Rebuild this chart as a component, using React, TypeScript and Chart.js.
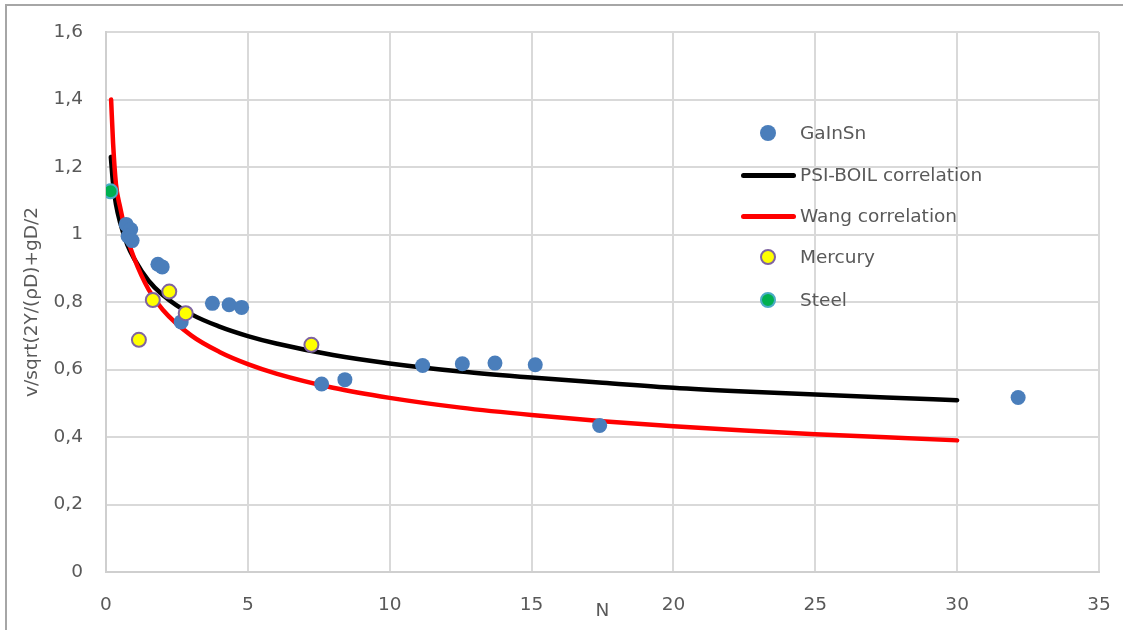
import React, { useEffect, useRef } from "react";
import { Chart, registerables } from "chart.js";

Chart.register(...registerables);

// GaInSn measurements
const gaX = [0.71, 0.87, 0.78, 0.92, 1.83, 1.98, 2.65, 3.75, 4.34, 4.78, 7.6, 8.42, 11.16, 12.56, 13.71, 15.13, 17.4, 32.15];
const gaY = [1.03, 1.015, 0.995, 0.982, 0.912, 0.904, 0.741, 0.796, 0.792, 0.784, 0.557, 0.57, 0.612, 0.617, 0.619, 0.614, 0.434, 0.517];

// Mercury measurements
const hgX = [1.16, 1.65, 2.23, 2.81, 7.24];
const hgY = [0.688, 0.806, 0.831, 0.767, 0.673];

// Steel measurement
const stX = [0.16];
const stY = [1.128];

// PSI-BOIL correlation
const psiX = [0.17, 0.25, 0.35, 0.5, 0.75, 1, 1.5, 2, 3, 4, 5, 6, 8, 10, 12.5, 15, 17.5, 20, 22.5, 25, 27.5, 30];
const psiY = [1.23, 1.15, 1.09, 1.035, 0.97, 0.927, 0.863, 0.821, 0.764, 0.727, 0.699, 0.677, 0.643, 0.618, 0.594, 0.576, 0.561, 0.546, 0.535, 0.526, 0.517, 0.509];

// Wang correlation
const wangX = [0.18, 0.25, 0.35, 0.5, 0.75, 1, 1.5, 2, 3, 4, 5, 6, 8, 10, 12.5, 15, 17.5, 20, 22.5, 25, 27.5, 30];
const wangY = [1.4, 1.27, 1.15, 1.08, 0.99, 0.928, 0.837, 0.777, 0.701, 0.652, 0.616, 0.588, 0.546, 0.516, 0.487, 0.465, 0.447, 0.432, 0.419, 0.408, 0.399, 0.39];

const seriesNames = ["GaInSn", "PSI-BOIL correlation", "Wang correlation", "Mercury", "Steel"];
const yTitle = "v/sqrt(2Υ/(ρD)+gD/2";
const xTitle = "N";

const FONT = "DejaVu Sans";
const TEXT = "#595959";
const GRID = "#d9d9d9";
const BLUE = "#4a7ebb";

const pts = (xs: number[], ys: number[]) => xs.map((x, i) => ({ x, y: ys[i] }));

export default function App() {
  const ref = useRef<HTMLCanvasElement | null>(null);

  useEffect(() => {
    if (!ref.current) return;
    const font = { family: FONT, size: 18.5 };
    const chart = new Chart(ref.current, {
      type: "scatter",
      data: {
        datasets: [
          {
            label: seriesNames[0],
            data: pts(gaX, gaY),
            backgroundColor: BLUE,
            borderColor: BLUE,
            pointRadius: 7.5,
            borderWidth: 0,
            order: 2,
          },
          {
            label: seriesNames[1],
            data: pts(psiX, psiY),
            showLine: true,
            borderColor: "#000000",
            backgroundColor: "#000000",
            borderWidth: 4.5,
            pointRadius: 0,
            cubicInterpolationMode: "monotone",
            borderCapStyle: "round",
            order: 4,
          },
          {
            label: seriesNames[2],
            data: pts(wangX, wangY),
            showLine: true,
            borderColor: "#ff0000",
            backgroundColor: "#ff0000",
            borderWidth: 4.5,
            pointRadius: 0,
            cubicInterpolationMode: "monotone",
            borderCapStyle: "round",
            order: 3,
          },
          {
            label: seriesNames[3],
            data: pts(hgX, hgY),
            backgroundColor: "#ffff00",
            borderColor: "#7f63a1",
            borderWidth: 2,
            pointRadius: 7,
            order: 1,
          },
          {
            label: seriesNames[4],
            data: pts(stX, stY),
            backgroundColor: "#00b050",
            borderColor: "#4bacc6",
            borderWidth: 2,
            pointRadius: 7,
            order: 0,
          },
        ],
      },
      options: {
        responsive: false,
        animation: false,
        layout: { padding: { left: 0, right: 24, top: 32, bottom: 0 } },
        plugins: { legend: { display: false }, tooltip: { enabled: false } },
        scales: {
          x: {
            type: "linear",
            min: 0,
            max: 35,
            ticks: { stepSize: 5, font, color: TEXT, padding: 22, maxRotation: 0 },
            grid: { color: GRID, lineWidth: 2, drawTicks: false },
            border: { color: "#cfcfcf", width: 2 },
            title: { display: true, text: xTitle, font, color: TEXT, padding: { top: 0, bottom: 8 } },
            afterFit: (s: any) => {
              s.height = 58;
              s.paddingLeft = 0;
              s.paddingRight = 0;
            },
          },
          y: {
            type: "linear",
            min: 0,
            max: 1.6,
            ticks: {
              stepSize: 0.2,
              font,
              color: TEXT,
              padding: 23,
              callback: (v: any) => String(Math.round(Number(v) * 10) / 10).replace(".", ","),
            },
            grid: { color: GRID, lineWidth: 2, drawTicks: false },
            border: { color: "#cfcfcf", width: 2 },
            title: { display: true, text: yTitle, font, color: TEXT, padding: { top: 21, bottom: 0 } },
            afterFit: (s: any) => {
              s.width = 106;
              s.paddingTop = 0;
              s.paddingBottom = 0;
            },
          },
        },
      },
    } as any);
    return () => chart.destroy();
  }, []);

  const legendText: React.CSSProperties = {
    position: "absolute",
    left: 800,
    fontFamily: FONT,
    fontSize: 18.5,
    color: TEXT,
    lineHeight: "22px",
    whiteSpace: "nowrap",
  };
  const rowsY = [133, 175, 216, 257, 300];

  const marker = (cy: number, bg: string, border: string, bw: number, d: number) => (
    <div
      style={{
        position: "absolute",
        left: 768 - d / 2,
        top: cy - d / 2,
        width: d - 2 * bw,
        height: d - 2 * bw,
        borderRadius: "50%",
        background: bg,
        border: `${bw}px solid ${border}`,
      }}
    />
  );
  const lineSwatch = (cy: number, color: string) => (
    <div
      style={{
        position: "absolute",
        left: 741,
        top: cy - 2.5,
        width: 55,
        height: 5,
        borderRadius: 2.5,
        background: color,
      }}
    />
  );

  return (
    <div style={{ position: "absolute", left: 0, top: 0, width: 1123, height: 630, background: "#fff", overflow: "hidden" }}>
      <div
        style={{
          position: "absolute",
          left: 5,
          top: 4,
          width: 1130,
          height: 700,
          borderLeft: "2.5px solid #a6a6a6",
          borderTop: "2.5px solid #a6a6a6",
        }}
      />
      <canvas ref={ref} width={1123} height={630} style={{ position: "absolute", left: 0, top: 0 }} />
      {marker(rowsY[0], BLUE, BLUE, 0, 16)}
      {lineSwatch(rowsY[1], "#000000")}
      {lineSwatch(rowsY[2], "#ff0000")}
      {marker(rowsY[3], "#ffff00", "#7f63a1", 2, 16)}
      {marker(rowsY[4], "#00b050", "#4bacc6", 2, 16)}
      {seriesNames.map((n, i) => (
        <div key={n} style={{ ...legendText, top: rowsY[i] - 11 }}>
          {n}
        </div>
      ))}
    </div>
  );
}
